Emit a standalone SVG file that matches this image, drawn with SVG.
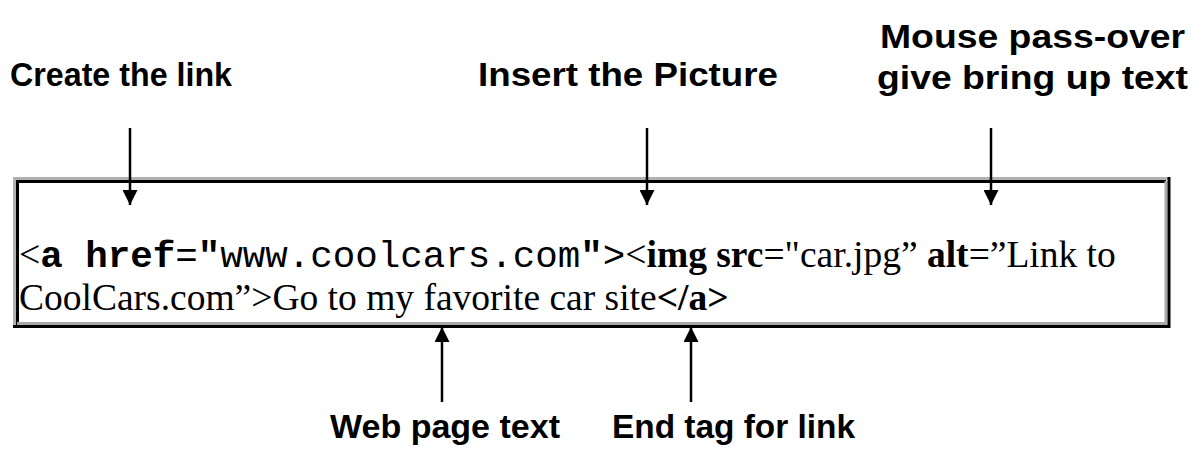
<svg xmlns="http://www.w3.org/2000/svg" width="1201" height="449" viewBox="0 0 1201 449">
<style>
.lbl{font-family:"Liberation Sans",Arial,sans-serif;font-weight:bold;font-size:34px;fill:#000}
.tm{font-family:"Liberation Serif","Times New Roman",serif;font-size:37.5px;fill:#000}
.mono{font-family:"Liberation Mono","Courier New",monospace}
.b{font-weight:bold}
.arr{stroke:#000;stroke-width:2.5;fill:none}
</style>
<defs>
<marker id="ah" viewBox="0 0 10 10" refX="10" refY="5" markerWidth="16" markerHeight="15" markerUnits="userSpaceOnUse" orient="auto">
<path d="M0,0 L10,5 L0,10 Z" fill="#000"/>
</marker>
</defs>
<g id="code-box">
<rect x="14" y="178" width="1155" height="149" fill="#fff"/>
<path d="M14.5,327 V178.5 H1168" stroke="#b0b0b0" stroke-width="3" fill="none"/>
<path d="M17.5,325 V181.5 H1166" stroke="#000" stroke-width="3" fill="none"/>
<path d="M1166,181 V323.5 H17" stroke="#a8a8a8" stroke-width="3" fill="none"/>
<path d="M1169,177 V326.5 H13" stroke="#000" stroke-width="3" fill="none"/>
<text class="tm" x="19" y="267" xml:space="preserve">&lt;<tspan class="mono b">a href</tspan><tspan class="mono">=</tspan><tspan class="mono b">"</tspan><tspan class="mono">www.coolcars.com</tspan><tspan class="mono b">"</tspan><tspan class="mono">&gt;</tspan>&lt;<tspan class="b">img src</tspan>="car.jpg” <tspan class="b">alt</tspan>=”Link to</text>
<text class="tm" x="19" y="309.5">CoolCars.com”&gt;Go to my favorite car site<tspan class="b">&lt;/a&gt;</tspan></text>
</g>
<g id="label-create"><text class="lbl" x="10" y="86" textLength="222" lengthAdjust="spacingAndGlyphs">Create the link</text></g>
<g id="label-insert"><text class="lbl" x="478" y="86" textLength="300" lengthAdjust="spacingAndGlyphs">Insert the Picture</text></g>
<g id="label-mouse"><text class="lbl" x="880" y="48" textLength="305" lengthAdjust="spacingAndGlyphs">Mouse pass-over</text><text class="lbl" x="877" y="89" textLength="311" lengthAdjust="spacingAndGlyphs">give bring up text</text></g>
<g id="label-web"><text class="lbl" x="330" y="438" textLength="230" lengthAdjust="spacingAndGlyphs">Web page text</text></g>
<g id="label-end"><text class="lbl" x="612" y="438" textLength="243" lengthAdjust="spacingAndGlyphs">End tag for link</text></g>
<g id="connectors">
<line class="arr" x1="130" y1="128" x2="130" y2="205" marker-end="url(#ah)"/>
<line class="arr" x1="647" y1="128" x2="647" y2="205" marker-end="url(#ah)"/>
<line class="arr" x1="991" y1="128" x2="991" y2="205" marker-end="url(#ah)"/>
<line class="arr" x1="442" y1="402" x2="442" y2="327" marker-end="url(#ah)"/>
<line class="arr" x1="691" y1="402" x2="691" y2="327" marker-end="url(#ah)"/>
</g>
</svg>
